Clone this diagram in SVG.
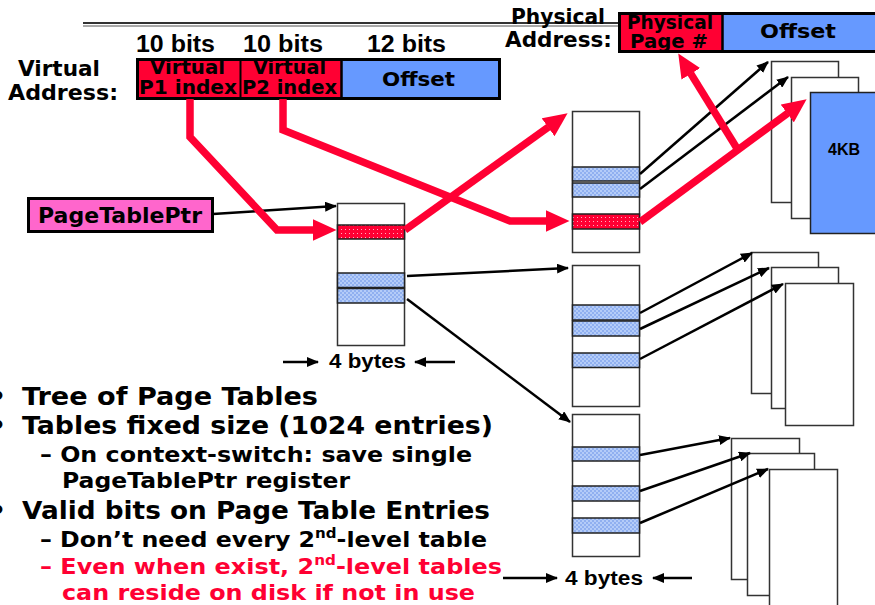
<svg xmlns="http://www.w3.org/2000/svg" width="875" height="605" viewBox="0 0 875 605">
<style>
.cs{font-family:"DejaVu Sans","Liberation Sans",sans-serif;font-weight:bold;fill:#000}
.ar{font-family:"Liberation Sans",Arial,sans-serif;font-weight:bold;fill:#000}
.bx{stroke:#000;stroke-width:3}
.tbl{fill:#fff;stroke:#333;stroke-width:1.5}
.pg{fill:#fff;stroke:#333;stroke-width:1.5}
.ent{stroke:#222;stroke-width:1.5}
.blk{fill:none;stroke:#000;stroke-width:2.5;marker-end:url(#ah)}
.red{fill:none;stroke:#ff0033;stroke-width:7.5;stroke-linejoin:miter;marker-end:url(#rh)}
.rt{fill:#ff0033}
</style>
<defs>
<marker id="ah" markerUnits="userSpaceOnUse" viewBox="0 0 12 10" markerWidth="12" markerHeight="10" refX="11" refY="5" orient="auto"><path d="M0,0 L12,5 L0,10 z" fill="#000"/></marker>
<marker id="rh" markerUnits="userSpaceOnUse" viewBox="0 0 24 22" markerWidth="24" markerHeight="22" refX="0.5" refY="11" orient="auto"><path d="M0,0 L24,11 L0,22 z" fill="#ff0033"/></marker>
<pattern id="pr" width="4" height="4" patternUnits="userSpaceOnUse"><rect width="4" height="4" fill="#ff0033"/><rect x="1" y="1" width="1" height="1" fill="#ffb0c0"/></pattern>
<pattern id="pb" width="4" height="4" patternUnits="userSpaceOnUse"><rect width="4" height="4" fill="#b4ccf8"/><rect width="2" height="2" fill="#90b0f0"/><rect x="2" y="2" width="2" height="2" fill="#90b0f0"/></pattern>
</defs>

<g id="rule">
<line x1="83" y1="23" x2="620" y2="23" stroke="#333" stroke-width="2"/>
<line x1="83" y1="26" x2="620" y2="26" stroke="#555" stroke-width="1"/>
</g>

<g id="virtual-address">
<text class="cs" x="18" y="76" font-size="22" textLength="82" lengthAdjust="spacingAndGlyphs">Virtual</text>
<text class="cs" x="8" y="100" font-size="22" textLength="110" lengthAdjust="spacingAndGlyphs">Address:</text>
<text class="ar" x="136" y="52" font-size="23" textLength="79" lengthAdjust="spacingAndGlyphs">10 bits</text>
<text class="ar" x="243" y="52" font-size="23" textLength="80" lengthAdjust="spacingAndGlyphs">10 bits</text>
<text class="ar" x="367" y="52" font-size="23" textLength="79" lengthAdjust="spacingAndGlyphs">12 bits</text>
<rect x="137.5" y="59.5" width="103" height="39" fill="#ff0033"/>
<rect x="240.5" y="59.5" width="101" height="39" fill="#ff0033"/>
<rect x="341.5" y="59.5" width="158" height="39" fill="#6699ff"/>
<rect x="137.5" y="59.5" width="362" height="39" fill="none" class="bx"/>
<line x1="240.5" y1="59.5" x2="240.5" y2="98.5" stroke="#000" stroke-width="2"/>
<line x1="341.5" y1="59.5" x2="341.5" y2="98.5" stroke="#000" stroke-width="2.5"/>
<text class="cs" x="150" y="74" font-size="19" textLength="75" lengthAdjust="spacingAndGlyphs">Virtual</text>
<text class="cs" x="139" y="94" font-size="19" textLength="98" lengthAdjust="spacingAndGlyphs">P1 index</text>
<text class="cs" x="253" y="74" font-size="19" textLength="73" lengthAdjust="spacingAndGlyphs">Virtual</text>
<text class="cs" x="242" y="94" font-size="19" textLength="95" lengthAdjust="spacingAndGlyphs">P2 index</text>
<text class="cs" x="382" y="86" font-size="20" textLength="73" lengthAdjust="spacingAndGlyphs">Offset</text>
</g>

<g id="physical-address">
<text class="cs" x="511" y="24" font-size="21" textLength="94" lengthAdjust="spacingAndGlyphs">Physical</text>
<text class="cs" x="505" y="47" font-size="21" textLength="107" lengthAdjust="spacingAndGlyphs">Address:</text>
<rect x="619.5" y="13.5" width="103" height="38" fill="#ff0033"/>
<rect x="722.5" y="13.5" width="170" height="38" fill="#6699ff"/>
<rect x="619.5" y="13.5" width="273" height="38" fill="none" class="bx"/>
<line x1="722.5" y1="13.5" x2="722.5" y2="51.5" stroke="#000" stroke-width="2.5"/>
<text class="cs" x="627" y="29" font-size="19" textLength="86" lengthAdjust="spacingAndGlyphs">Physical</text>
<text class="cs" x="630" y="48" font-size="19" textLength="78" lengthAdjust="spacingAndGlyphs">Page #</text>
<text class="cs" x="760" y="38" font-size="20" textLength="76" lengthAdjust="spacingAndGlyphs">Offset</text>
</g>

<g id="pagetableptr">
<rect x="28.5" y="198.5" width="184" height="33" fill="#ff66cc" class="bx"/>
<text class="cs" x="38" y="223" font-size="21" textLength="164" lengthAdjust="spacingAndGlyphs">PageTablePtr</text>
</g>

<g id="top-table">
<rect class="tbl" x="337.5" y="203.5" width="67" height="142"/>
<rect class="ent" x="337.5" y="225" width="67" height="14" fill="url(#pr)"/>
<rect class="ent" x="337.5" y="273" width="67" height="14.5" fill="url(#pb)"/>
<rect class="ent" x="337.5" y="288.5" width="67" height="14.5" fill="url(#pb)"/>
<text class="ar" x="329" y="368" font-size="20" textLength="77" lengthAdjust="spacingAndGlyphs">4 bytes</text>
</g>

<g id="table-a">
<rect class="tbl" x="572.5" y="111.5" width="67" height="141"/>
<rect class="ent" x="572.5" y="167" width="67" height="14" fill="url(#pb)"/>
<rect class="ent" x="572.5" y="183" width="67" height="14" fill="url(#pb)"/>
<rect class="ent" x="572.5" y="214" width="67" height="15" fill="url(#pr)"/>
</g>

<g id="table-b">
<rect class="tbl" x="572.5" y="265.5" width="67" height="141"/>
<rect class="ent" x="572.5" y="305" width="67" height="15" fill="url(#pb)"/>
<rect class="ent" x="572.5" y="321" width="67" height="15" fill="url(#pb)"/>
<rect class="ent" x="572.5" y="353" width="67" height="14.5" fill="url(#pb)"/>
</g>

<g id="table-c">
<rect class="tbl" x="572.5" y="414.5" width="67" height="142"/>
<rect class="ent" x="572.5" y="447" width="67" height="14" fill="url(#pb)"/>
<rect class="ent" x="572.5" y="486" width="67" height="15" fill="url(#pb)"/>
<rect class="ent" x="572.5" y="518" width="67" height="15" fill="url(#pb)"/>
<text class="ar" x="565" y="585" font-size="20" textLength="78" lengthAdjust="spacingAndGlyphs">4 bytes</text>
</g>

<g id="pages-top">
<rect class="pg" x="771.5" y="61.5" width="67" height="141"/>
<rect class="pg" x="791.5" y="77.5" width="67" height="141"/>
<rect x="810.5" y="92.5" width="68" height="141" fill="#6699ff" stroke="#222" stroke-width="1.5"/>
<text class="ar" x="844" y="155" font-size="16" text-anchor="middle">4KB</text>
</g>

<g id="pages-middle">
<rect class="pg" x="751.5" y="252.5" width="67" height="141"/>
<rect class="pg" x="771.5" y="267.5" width="67" height="141"/>
<rect class="pg" x="785.5" y="283.5" width="68" height="142"/>
</g>

<g id="pages-bottom">
<rect class="pg" x="731.5" y="438.5" width="68" height="141"/>
<rect class="pg" x="747.5" y="453.5" width="67" height="142"/>
<rect class="pg" x="769.5" y="469.5" width="68" height="142"/>
</g>

<g id="connectors">
<path class="blk" d="M213,214 L336,206"/>
<path class="blk" d="M407,276 L568,268"/>
<path class="blk" d="M407,299 L570,422"/>
<path class="blk" d="M640,174 L768,62"/>
<path class="blk" d="M640,189 L788,77"/>
<path class="blk" d="M640,313 L752,253"/>
<path class="blk" d="M640,329 L769,268"/>
<path class="blk" d="M640,359 L783,284"/>
<path class="blk" d="M640,455 L730,438"/>
<path class="blk" d="M640,491 L750,453"/>
<path class="blk" d="M640,523 L768,469"/>
<path class="blk" d="M283,362 L318,362"/>
<path class="blk" d="M455,362 L415,362"/>
<path class="blk" d="M503,578 L557,578"/>
<path class="blk" d="M692,578 L653,578"/>
<path class="red" d="M190,99 L190,137 L277,230 L313,230"/>
<path class="red" d="M283,99 L283,130 L510,221 L546,221"/>
<path class="red" d="M405,230 L548.5,127"/>
<path class="red" d="M640,222 L787.7,113.2"/>
<path class="red" d="M738,150 L690.6,73.4"/>
</g>

<g id="bullets">
<text class="cs" x="-10" y="405" font-size="25">•</text>
<text class="cs" x="-10" y="434" font-size="25">•</text>
<text class="cs" x="-10" y="519" font-size="25">•</text>
<text class="cs" x="22" y="405" font-size="25" textLength="296" lengthAdjust="spacingAndGlyphs">Tree of Page Tables</text>
<text class="cs" x="22" y="434" font-size="25" textLength="471" lengthAdjust="spacingAndGlyphs">Tables fixed size (1024 entries)</text>
<text class="cs" x="40" y="462" font-size="22" textLength="432" lengthAdjust="spacingAndGlyphs">– On context-switch: save single</text>
<text class="cs" x="62" y="488" font-size="22" textLength="288" lengthAdjust="spacingAndGlyphs">PageTablePtr register</text>
<text class="cs" x="22" y="519" font-size="25" textLength="468" lengthAdjust="spacingAndGlyphs">Valid bits on Page Table Entries</text>
<text class="cs" x="40" y="547" font-size="22" textLength="447" lengthAdjust="spacingAndGlyphs">– Don’t need every 2<tspan font-size="14" dy="-9">nd</tspan><tspan dy="9">-level table</tspan></text>
<text class="cs rt" x="40" y="574" font-size="22" style="fill:#ff0033" textLength="462" lengthAdjust="spacingAndGlyphs">– Even when exist, 2<tspan font-size="14" dy="-9">nd</tspan><tspan dy="9">-level tables</tspan></text>
<text class="cs rt" x="62" y="600" font-size="22" style="fill:#ff0033" textLength="413" lengthAdjust="spacingAndGlyphs">can reside on disk if not in use</text>
</g>
</svg>
